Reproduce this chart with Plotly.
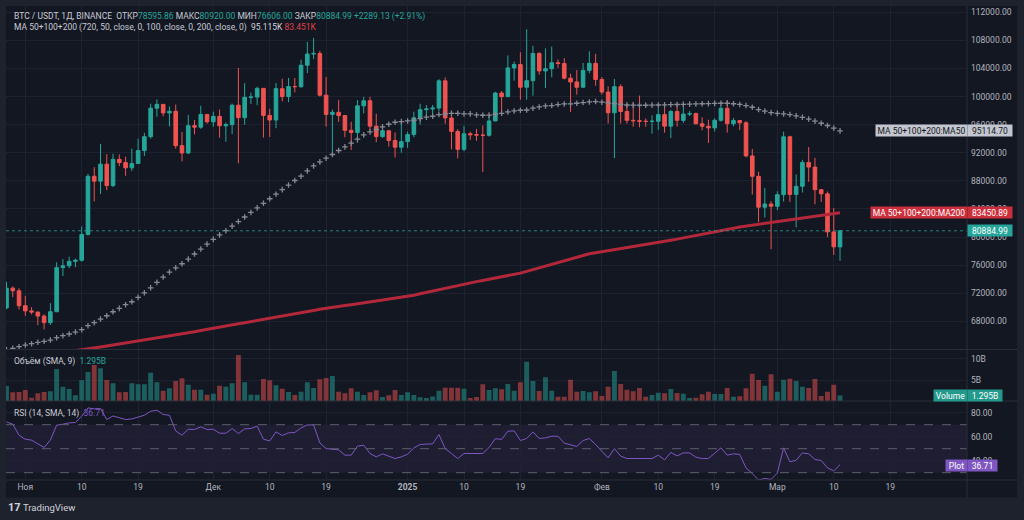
import pandas as pd
import plotly.graph_objects as go

# daily candles, 2024-10-29 .. 2025-03-11 (BTC / USDT, 1D, Binance)
dates = pd.date_range("2024-10-29", "2025-03-11", freq="D")

opens = [
    69910, 72720, 72340, 70215, 69480, 69310, 68740, 67810, 69360, 75640, 75900, 76540, 76680, 80370,
    88650, 87950, 90375, 87325, 91060, 90600, 89850, 90465, 92310, 94290, 98350, 98890, 97670, 97900,
    93010, 91965, 95860, 95645, 97460, 96405, 97185, 95840, 96000, 98770, 96990, 99890, 99930, 101170,
    97320, 96660, 101125, 100000, 101420, 101410, 104460, 106060, 106140, 100200, 97460, 97760, 97290,
    95190, 94880, 98680, 99400, 95790, 94300, 95140, 93740, 92790, 93580, 94590, 96980, 98140, 98230,
    98360, 102240, 96950, 95040, 92480, 94700, 94570, 94520, 94480, 96530, 100500, 99990, 104080,
    104560, 101330, 102260, 106140, 103650, 103960, 104820, 104710, 102620, 102080, 101330, 103730,
    104730, 102430, 100640, 97690, 101400, 97870, 96615, 96555, 96480, 96460, 96480, 97430, 95780,
    97870, 96610, 97500, 97570, 96120, 95770, 95540, 96620, 98330, 96130, 96580, 96270, 91550, 88640,
    84250, 84700, 84370, 86030, 94270, 86070, 87220, 90620, 89960, 86740, 86150, 80730, 78595.86,
]
highs = [
    73620, 72960, 72700, 71630, 70000, 69400, 69000, 70580, 76400, 76850, 77200, 76930, 81500, 89000,
    89940, 93265, 91790, 91850, 91760, 91450, 92590, 94000, 94830, 98990, 99590, 98900, 98590, 98870,
    94970, 97400, 96650, 98690, 97460, 97840, 98150, 96300, 99000, 104090, 101900, 100550, 101400,
    101200, 98270, 101935, 102540, 102650, 102650, 105250, 107780, 108350, 106520, 102800, 98150,
    99540, 97400, 96420, 99490, 99960, 99960, 97550, 95530, 95200, 94900, 96250, 95000, 97840, 98980,
    98780, 98810, 102480, 102720, 97260, 95350, 95840, 95000, 95400, 95900, 97370, 100680, 100780,
    105860, 104980, 106310, 109590, 107240, 106330, 106850, 107120, 105290, 105470, 103250, 103780,
    104790, 106460, 106080, 102780, 101470, 102500, 101750, 99000, 99200, 100140, 96880, 97330, 98350,
    98500, 98120, 98670, 98830, 97970, 97730, 97050, 96700, 96900, 98760, 99500, 96950, 96670, 96500,
    92540, 89290, 87000, 85120, 86520, 95000, 94420, 88910, 91000, 92810, 91280, 86850, 86470, 84120,
    80920,
]
lows = [
    69730, 71440, 69690, 68780, 68980, 67460, 66835, 67460, 69300, 74450, 75560, 75700, 76500, 80220,
    85070, 86130, 86670, 87110, 90090, 88720, 89380, 90400, 91530, 94000, 97120, 97190, 95730, 92600,
    90770, 91820, 94620, 95400, 96160, 95690, 94150, 93580, 94660, 90500, 95980, 98950, 98770, 94150,
    94250, 95500, 99310, 99200, 100600, 101230, 103340, 105320, 100000, 95700, 92100, 96400, 94200,
    92400, 93400, 97600, 95140, 93500, 94120, 92880, 91320, 92000, 92700, 94200, 96000, 97230, 97270,
    97900, 96130, 92500, 91200, 92200, 93830, 93700, 89250, 94300, 96480, 97250, 99950, 102270, 99550,
    99550, 100120, 103100, 101220, 102750, 104100, 102450, 97780, 100270, 101260, 103320, 101550,
    100280, 96150, 91230, 96150, 96150, 95700, 95620, 95690, 94720, 95260, 94850, 94090, 95720, 96250,
    97220, 96050, 95200, 93390, 95030, 96420, 94870, 95770, 95230, 91350, 86050, 82130, 82790, 78260,
    83820, 85050, 85000, 81390, 86330, 87850, 84670, 85000, 80000, 77460, 76606,
]
closes = [
    72720, 72340, 70215, 69480, 69310, 68740, 67810, 69360, 75640, 75900, 76540, 76680, 80370, 88650,
    87950, 90375, 87325, 91060, 90600, 89850, 90465, 92310, 94290, 98350, 98890, 97670, 97900, 93010,
    91965, 95860, 95645, 97460, 96405, 97185, 95840, 96000, 98770, 96990, 99890, 99930, 101170, 97320,
    96660, 101125, 100000, 101420, 101410, 104460, 106060, 106140, 100200, 97460, 97760, 97290, 95190,
    94880, 98680, 99400, 95790, 94300, 95140, 93740, 92790, 93580, 94590, 96980, 98140, 98230, 98360,
    102240, 96950, 95040, 92480, 94700, 94570, 94520, 94480, 96530, 100500, 99990, 104080, 104560,
    101330, 102260, 106140, 103650, 103960, 104820, 104710, 102620, 102080, 101330, 103730, 104730,
    102430, 100640, 97690, 101400, 97870, 96615, 96555, 96480, 96460, 96480, 97430, 95780, 97870, 96610,
    97500, 97570, 96120, 95770, 95540, 96620, 98330, 96130, 96580, 96270, 91550, 88640, 84250, 84700,
    84370, 86030, 94270, 86070, 87220, 90620, 89960, 86740, 86150, 80730, 78600, 80884.99,
]

# volume, billions
volume_b = [
    3.57, 2.06, 2.14, 2.62, 0.79, 1.83, 2.14, 2.30, 7.62, 3.41, 2.86, 1.35, 4.92, 6.90, 8.57, 7.78,
    5.00, 4.20, 2.06, 2.14, 4.20, 3.97, 3.97, 6.75, 4.44, 2.46, 3.02, 4.76, 5.40, 3.89, 2.70, 2.70,
    1.51, 1.75, 3.65, 3.41, 4.20, 10.95, 4.44, 1.51, 1.51, 5.24, 4.92, 3.73, 2.94, 2.14, 1.43, 2.22,
    4.44, 3.10, 5.16, 5.48, 5.95, 2.22, 1.83, 3.02, 2.22, 1.43, 2.06, 2.54, 0.95, 1.35, 2.62, 1.43,
    2.06, 1.43, 0.87, 0.71, 1.10, 2.46, 3.17, 3.17, 3.17, 2.94, 0.71, 0.95, 3.97, 2.62, 3.02, 2.78,
    4.05, 2.46, 4.44, 9.36, 4.76, 2.38, 5.63, 2.46, 1.03, 1.03, 5.08, 2.22, 2.38, 2.06, 2.30, 1.19,
    3.41, 7.14, 4.05, 2.70, 2.30, 3.10, 1.03, 1.43, 1.98, 1.83, 2.86, 1.90, 1.75, 0.71, 0.79, 1.59,
    2.22, 1.67, 1.67, 3.10, 1.03, 1.11, 3.02, 6.51, 5.00, 3.65, 6.35, 2.22, 5.08, 5.32, 4.76, 3.41,
    3.10, 5.24, 1.19, 2.22, 3.89, 1.295,
]

rsi = [
    72.3, 70.4, 61.2, 57.9, 57.1, 54.3, 51.0, 57.1, 69.6, 70.4, 71.5, 71.8, 77.1, 84.0, 83.2, 83.5,
    74.3, 77.3, 76.0, 74.3, 74.8, 76.5, 77.9, 81.2, 82.1, 78.5, 77.9, 64.8, 61.2, 66.2, 66.0, 68.2,
    66.0, 66.2, 62.9, 62.9, 66.8, 62.6, 66.5, 66.8, 68.8, 57.9, 56.5, 64.0, 61.0, 63.2, 63.5, 67.3,
    69.8, 69.8, 54.8, 50.1, 49.6, 49.0, 44.6, 44.6, 52.1, 52.9, 46.0, 43.2, 45.7, 43.8, 41.8, 43.2,
    45.4, 50.7, 53.5, 53.8, 54.0, 61.8, 50.1, 46.0, 41.8, 46.0, 46.0, 46.0, 46.0, 51.0, 58.4, 57.7,
    64.6, 64.8, 56.8, 58.5, 64.0, 58.5, 59.0, 60.4, 60.4, 54.6, 53.5, 51.8, 56.8, 58.5, 53.5, 47.9,
    42.3, 50.1, 43.8, 41.8, 41.8, 41.8, 41.8, 41.8, 44.6, 40.7, 46.8, 44.0, 46.5, 46.5, 42.9, 41.8,
    41.8, 46.0, 50.7, 44.6, 45.7, 45.2, 34.0, 29.3, 23.8, 25.2, 24.4, 29.8, 50.7, 39.0, 40.4, 46.5,
    45.7, 41.0, 40.1, 34.0, 31.5, 36.71,
]

ma50 = [
    63950, 64150, 64380, 64620, 64810, 65010, 65150, 65330, 65660, 65950, 66190, 66470, 66800, 67370,
    67800, 68320, 68790, 69360, 69840, 70360, 70780, 71410, 72060, 72770, 73540, 74300, 75010, 75620,
    76190, 76850, 77580, 78290, 78990, 79660, 80310, 80900, 81550, 82200, 82850, 83500, 84150, 84800,
    85450, 86100, 86750, 87400, 88050, 88660, 89420, 90130, 90700, 91220, 91750, 92320, 92830, 93360,
    93930, 94540, 94960, 95310, 95680, 96060, 96340, 96440, 96530, 96630, 96850, 97060, 97200, 97440,
    97540, 97620, 97620, 97530, 97530, 97380, 97340, 97360, 97480, 97620, 97810, 97950, 98050, 98090,
    98340, 98520, 98660, 98720, 98860, 98950, 98950, 99050, 99150, 99230, 99290, 99200, 99100, 99000,
    98900, 98800, 98780, 98760, 98760, 98780, 98800, 98820, 98850, 98870, 98900, 98920, 98950, 98980,
    99000, 99030, 99050, 99050, 98980, 98880, 98720, 98480, 98150, 97920, 97720, 97600, 97540, 97440,
    97250, 97050, 96800, 96500, 96200, 95880, 95500, 95114.70,
]

ma200 = [
    62300, 62450, 62600, 62750, 62900, 63050, 63200, 63330, 63460, 63590, 63720, 63840, 63960, 64060,
    64200, 64340, 64480, 64620, 64760, 64900, 65040, 65180, 65320, 65460, 65600, 65740, 65880, 66010,
    66140, 66320, 66500, 66690, 66870, 67050, 67230, 67380, 67520, 67660, 67800, 67950, 68090, 68240,
    68380, 68540, 68710, 68870, 69040, 69200, 69360, 69530, 69700, 69860, 69990, 70120, 70240, 70370,
    70500, 70620, 70750, 70880, 71010, 71140, 71260, 71390, 71520, 71710, 71910, 72110, 72310, 72510,
    72720, 72920, 73120, 73330, 73490, 73650, 73810, 73970, 74130, 74290, 74450, 74620, 74860, 75110,
    75370, 75630, 75890, 76150, 76410, 76660, 76900, 77140, 77380, 77620, 77760, 77900, 78050, 78190,
    78330, 78470, 78610, 78760, 78900, 79060, 79220, 79380, 79540, 79700, 79860, 80020, 80180, 80340,
    80500, 80670, 80860, 81050, 81240, 81430, 81560, 81680, 81810, 81930, 82060, 82180, 82310, 82430,
    82560, 82680, 82810, 82940, 83060, 83190, 83320, 83450.89,
]

tick_dates = ["2024-11-01", "2024-11-10", "2024-11-19", "2024-12-01", "2024-12-10", "2024-12-19",
              "2025-01-01", "2025-01-10", "2025-01-19", "2025-02-01", "2025-02-10", "2025-02-19",
              "2025-03-01", "2025-03-10", "2025-03-19"]
tick_text = ["Ноя", "10", "19", "Дек", "10", "19", "<b>2025</b>", "10", "19", "Фев", "10", "19",
             "Мар", "10", "19"]
price_ticks = list(range(68000, 112001, 4000))

BG = "#131722"
FRAME = "#1e222d"
GRID = "#1d2130"
TEXT = "#b2b5be"
UP = "#26a69a"
DOWN = "#ef5350"
FONT = "Roboto"

W, H = 1024, 520
L, R, T, B = 6, 57, 6, 40
PW, PH = W - L - R, H - T - B


def px_x(px):
    return (px - L) / PW


def px_y(py):
    return (H - B - py) / PH


vol_colors = ["rgba(38,166,154,0.5)" if c >= o else "rgba(239,83,80,0.5)" for o, c in zip(opens, closes)]
volume = [v * 1e9 for v in volume_b]

fig = go.Figure()
fig.add_trace(go.Scatter(x=dates, y=ma200, mode="lines", line=dict(color="#b2283a", width=3),
                         xaxis="x", yaxis="y", hoverinfo="skip"))
fig.add_trace(go.Scatter(x=dates, y=ma50, mode="markers",
                         marker=dict(symbol="cross-thin", size=4, line=dict(color="#868993", width=1.3)),
                         xaxis="x", yaxis="y", hoverinfo="skip"))
fig.add_trace(go.Candlestick(
    x=dates, open=opens, high=highs, low=lows, close=closes, xaxis="x", yaxis="y",
    increasing=dict(line=dict(color=UP, width=1), fillcolor=UP),
    decreasing=dict(line=dict(color=DOWN, width=1), fillcolor=DOWN),
))
fig.add_trace(go.Bar(x=dates, y=volume, marker=dict(color=vol_colors, line=dict(width=0)),
                     xaxis="x2", yaxis="y2", hoverinfo="skip"))
fig.add_trace(go.Scatter(x=dates, y=rsi, mode="lines", line=dict(color="#7e57c2", width=1),
                         xaxis="x3", yaxis="y3", hoverinfo="skip"))

x_range = ["2024-10-28 22:05", "2025-03-31 06:15"]
main_dom = [px_y(349.5), 1]
vol_dom = [px_y(401), px_y(349.5)]
rsi_dom = [0, px_y(401)]

xcommon = dict(type="date", range=x_range, tickvals=tick_dates, ticktext=tick_text, showgrid=True,
               gridcolor=GRID, gridwidth=1, zeroline=False, showline=False, ticks="",
               rangeslider=dict(visible=False), fixedrange=True)
ycommon = dict(side="right", showgrid=True, gridcolor=GRID, zeroline=False, showline=False, ticks="",
               tickfont=dict(size=8.5, color=TEXT, family=FONT), ticklabelstandoff=3)

fig.update_layout(
    width=W, height=H,
    margin=dict(l=L, r=R, t=T, b=B, autoexpand=False),
    paper_bgcolor=BG, plot_bgcolor=BG,
    showlegend=False, bargap=0.22, boxgap=0.18,
    font=dict(family=FONT, size=8.5, color=TEXT),
    xaxis=dict(**xcommon, anchor="y", showticklabels=False),
    xaxis2=dict(**xcommon, anchor="y2", matches="x", showticklabels=False),
    xaxis3=dict(**xcommon, anchor="y3", matches="x", showticklabels=True,
                tickfont=dict(size=8.5, color=TEXT, family=FONT)),
    yaxis=dict(**ycommon, domain=main_dom, range=[63983, 112896], tickvals=price_ticks,
               ticktext=[f"{v:.2f}" for v in price_ticks]),
    yaxis2=dict(**ycommon, domain=vol_dom, range=[0, 12.26e9], tickvals=[5e9, 10e9],
                ticktext=["5B", "10B"]),
    yaxis3=dict(**ycommon, domain=rsi_dom, range=[23.9, 89.75], tickvals=[40, 60, 80],
                ticktext=["40.00", "60.00", "80.00"]),
)

shapes = [
    # rsi band
    dict(type="rect", xref="x3 domain", yref="y3", x0=0, x1=1, y0=30, y1=70,
         fillcolor="rgba(126,87,194,0.1)", line=dict(width=0), layer="below"),
    # current price line
    dict(type="line", xref="x domain", yref="y", x0=0, x1=1, y0=closes[-1], y1=closes[-1],
         line=dict(color="rgba(38,166,154,0.75)", width=1, dash="dot")),
]
for lvl in (70, 50, 30):
    shapes.append(dict(type="line", xref="x3 domain", yref="y3", x0=0, x1=1, y0=lvl, y1=lvl,
                       line=dict(color="#5d606b", width=1, dash="dash")))
# pane separators and axis border
for py in (349.5, 401, 480):
    shapes.append(dict(type="line", xref="paper", yref="paper", x0=0, x1=px_x(1017), y0=px_y(py), y1=px_y(py),
                       line=dict(color="#2a2e39", width=1)))
shapes.append(dict(type="line", xref="paper", yref="paper", x0=px_x(967), x1=px_x(967), y0=px_y(497.5), y1=1,
                   line=dict(color="#2a2e39", width=1)))
# outer frame
for x0, x1, y0, y1 in [(0, 6, 0, 520), (1017, 1024, 0, 520), (0, 1024, 497.5, 520), (0, 1024, 0, 6)]:
    shapes.append(dict(type="rect", xref="paper", yref="paper", x0=px_x(x0), x1=px_x(x1),
                       y0=px_y(y1), y1=px_y(y0), fillcolor=FRAME, line=dict(width=0)))
fig.update_layout(shapes=shapes)

LEG = "#c8cbd3"
NB = "\u00a0"


def span(text, color):
    return f"<span style='color:{color}'>{text}</span>"


annotations = [
    dict(text=("BTC / USDT, 1Д, BINANCE" + NB * 2 + "ОТКР" + span("78595.86", UP) + NB + "МАКС"
               + span("80920.00", UP) + NB + "МИН" + span("76606.00", UP) + NB + "ЗАКР"
               + span("80884.99", UP) + NB + span("+2289.13 (+2.91%)", UP)),
         x=px_x(11.5), y=px_y(16.5)),
    dict(text=("MA 50+100+200 (720, 50, close, 0, 100, close, 0, 200, close, 0)" + NB * 2
               + span("95.115K", "#d1d4dc") + NB + span("83.451K", "#e0404c")),
         x=px_x(11.5), y=px_y(28)),
    dict(text="Объём (SMA, 9)" + NB * 2 + span("1.295B", UP), x=px_x(11.5), y=px_y(361)),
    dict(text="RSI (14, SMA, 14)" + NB * 2 + span("36.71", "#7e57c2"), x=px_x(11.5), y=px_y(413)),
]
for a in annotations:
    a.update(xref="paper", yref="paper", xanchor="left", yanchor="middle", showarrow=False,
             font=dict(size=8.5, color=LEG, family=FONT))


def tag(text, left, right, py, bg, fg):
    return dict(text=text, xref="paper", yref="paper", x=px_x(left), y=px_y(py), xanchor="left",
                yanchor="middle", showarrow=False, bgcolor=bg, width=right - left - 2, height=9,
                borderpad=1, align="center", font=dict(size=8.5, color=fg, family=FONT))


annotations += [
    tag("MA 50+100+200:MA50", 875, 966, 130.7, "#c3c6ce", BG),
    tag("95114.70", 967, 1011, 130.7, "#c3c6ce", BG),
    tag("MA 50+100+200:MA200", 870, 966, 212.7, "#cc2f3c", "#ffffff"),
    tag("83450.89", 967, 1011, 212.7, "#cc2f3c", "#ffffff"),
    tag("80884.99", 967, 1011, 230.7, UP, "#ffffff"),
    tag("Volume", 933, 966, 395.3, "#22998b", "#ffffff"),
    tag("1.295B", 967, 1001, 395.3, "#22998b", "#ffffff"),
    tag("Plot", 945, 966, 465, "#7e57c2", "#ffffff"),
    tag("36.71", 967, 996, 465, "#7e57c2", "#ffffff"),
    dict(text="<b>17</b>", xref="paper", yref="paper", x=px_x(6), y=px_y(507.5), xanchor="left",
         yanchor="middle", showarrow=False, font=dict(size=11, color="#d1d4dc", family=FONT)),
    dict(text="TradingView", xref="paper", yref="paper", x=px_x(21), y=px_y(507.5), xanchor="left",
         yanchor="middle", showarrow=False, font=dict(size=9.5, color="#d1d4dc", family=FONT)),
]
fig.update_layout(annotations=annotations)

# drop the default page margin so the figure sits at the window's top-left corner
fig.write_html("out.html", config={"displayModeBar": False},
               post_script="document.body.style.margin='0';document.body.style.background='#1e222d';")
